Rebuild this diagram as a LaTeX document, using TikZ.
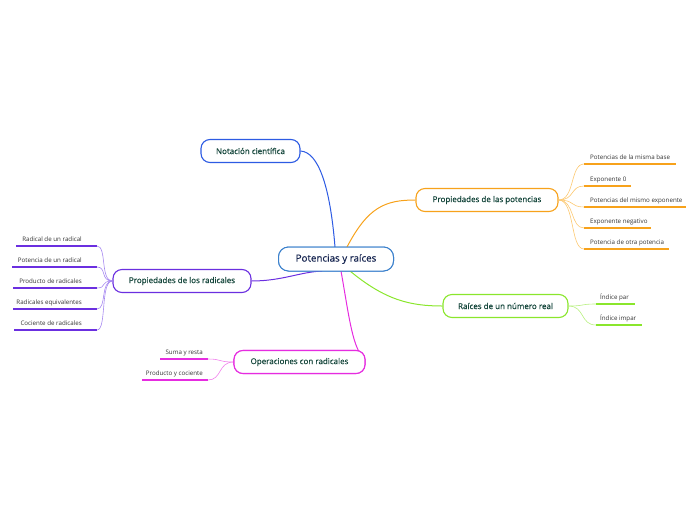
\documentclass[tikz,border=0pt]{standalone}
\usepackage{fontspec}
\setmainfont{Open Sans}
\newfontfamily\semib[FakeBold=0.5]{Open Sans}
\definecolor{cblue}{HTML}{2D5BE3}
\definecolor{cmain}{HTML}{3A80CC}
\definecolor{corange}{HTML}{F7A21B}
\definecolor{corangel}{HTML}{FCC870}
\definecolor{cgreen}{HTML}{8AE62C}
\definecolor{cgreenl}{HTML}{B8F080}
\definecolor{cpurple}{HTML}{6B2FE0}
\definecolor{cpurplel}{HTML}{A587F0}
\definecolor{cmag}{HTML}{E62CE0}
\definecolor{cmagl}{HTML}{F080EC}
\definecolor{ctext}{HTML}{13453A}
\definecolor{cmaintext}{HTML}{14234F}
\tikzset{
  mainbox/.style={draw=cmain,line width=1pt,rounded corners=10pt,fill=white,minimum width=115pt,minimum height=24pt,font=\semib\fontsize{9.8}{11}\selectfont,text=cmaintext},
  topicbox/.style={draw=#1,line width=1.1pt,rounded corners=9pt,fill=white,minimum height=23pt,font=\semib\fontsize{8}{9}\selectfont,text=ctext},
  leaf/.style={font=\fontsize{6.2}{7}\selectfont,text=black!80,inner sep=0pt},
  uline/.style={draw=#1,line width=1.5pt},
  conn/.style={draw=#1,line width=1pt},
  subconn/.style={draw=#1,line width=0.6pt},
}
\begin{document}
\begin{tikzpicture}[x=1pt,y=-1pt]
\useasboundingbox (0,0) rectangle (696,520);
% central
\node[mainbox] (main) at (336,259) {Potencias y raíces};
% topics
\node[topicbox=cblue,minimum width=99pt] (nota) at (250.5,151) {Notación científica};
\node[topicbox=corange,minimum width=142pt] (pot) at (487,200) {Propiedades de las potencias};
\node[topicbox=cgreen,minimum width=125pt] (rai) at (505.5,306) {Raíces de un número real};
\node[topicbox=cpurple,minimum width=138pt] (rad) at (182,281) {Propiedades de los radicales};
\node[topicbox=cmag,minimum width=131pt] (ope) at (299.5,362) {Operaciones con radicales};
% main connectors
\coordinate (mN) at (335,247);
\coordinate (mO) at (347,247);
\coordinate (mG) at (350,271);
\coordinate (mP) at (322,271);
\coordinate (mM) at (341,271);
\coordinate (opeEnd) at (362,356);
\draw[conn=cblue] (nota.east) .. controls (318,152) and (330,185) .. (mN);
\draw[conn=corange] (mO) .. controls (368,207) and (385,200) .. (pot.west);
\draw[conn=cgreen] (mG) .. controls (385,300) and (410,306) .. (rai.west);
\draw[conn=cpurple] (rad.east) .. controls (282,281) and (300,272) .. (mP);
\draw[conn=cmag] (mM) .. controls (348,310) and (352,345) .. (opeEnd);
% potencias leaves
\foreach \n/\y/\xe/\t in {p1/164/676/Potencias de la misma base, p2/186/631/Exponente 0, p3/207/686/Potencias del mismo exponente, p4/228/651/Exponente negativo, p5/249/669/Potencia de otra potencia}{
  \coordinate (\n s) at (584,\y);
  \coordinate (\n e) at (\xe,\y);
  \node[leaf,anchor=base west] (\n) at (590,\y-5) {\t};
  \draw[uline=corange] (\n s) -- (\n e);
  \draw[subconn=corangel] (pot.east) .. controls (575,200) and (570,\y) .. (\n s);
}
% raices leaves
\foreach \n/\y/\xe/\t in {r1/304/635/Índice par, r2/325/642/Índice impar}{
  \coordinate (\n s) at (596,\y);
  \coordinate (\n e) at (\xe,\y);
  \node[leaf,anchor=base west] (\n) at (600,\y-5) {\t};
  \draw[uline=cgreen] (\n s) -- (\n e);
  \draw[subconn=cgreenl] (rai.east) .. controls (585,306) and (580,\y) .. (\n s);
}
% radicales leaves
\foreach \n/\y/\xs/\t in {d1/246/16/Radical de un radical, d2/267/12/Potencia de un radical, d3/288/13/Producto de radicales, d4/309/13/Radicales equivalentes, d5/330/14/Cociente de radicales}{
  \coordinate (\n s) at (97,\y);
  \coordinate (\n e) at (\xs,\y);
  \node[leaf,anchor=base east] (\n) at (82,\y-5) {\t};
  \draw[uline=cpurple] (\n s) -- (\n e);
  \draw[subconn=cpurplel] (rad.west) .. controls (100,281) and (107,\y) .. (\n s);
}
% operaciones leaves
\foreach \n/\y/\xs/\t in {o1/359/160/Suma y resta, o2/380/142/Producto y cociente}{
  \coordinate (\n s) at (208,\y);
  \coordinate (\n e) at (\xs,\y);
  \node[leaf,anchor=base east] (\n) at (203,\y-5) {\t};
  \draw[uline=cmag] (\n s) -- (\n e);
  \draw[subconn=cmagl] (ope.west) .. controls (218,362) and (222,\y) .. (\n s);
}
% redraw nodes on top
\node[mainbox] at (main) {Potencias y raíces};
\node[topicbox=cmag,minimum width=131pt] at (ope) {Operaciones con radicales};
\end{tikzpicture}
\end{document}
